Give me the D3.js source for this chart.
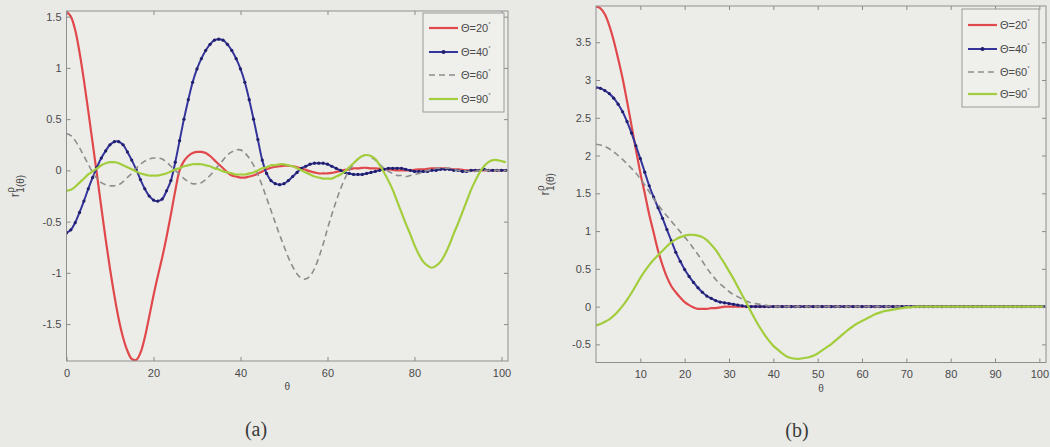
<!DOCTYPE html>
<html>
<head>
<meta charset="utf-8">
<script src="https://cdn.jsdelivr.net/npm/d3@7"></script>
<style>
  html, body { margin: 0; padding: 0; background: #e9e9e6; }
  svg { display: block; }
</style>
</head>
<body>
<svg id="chart" width="1050" height="447"></svg>
<script>
// Angle grid (degrees), shared by both panels
const theta = d3.range(0, 102);

// Panel (a)
const redA = [
  1.55, 1.50, 1.37, 1.15, 0.88, 0.58, 0.27, -0.04, -0.36, -0.67,
  -0.96, -1.22, -1.45, -1.63, -1.76, -1.84, -1.85, -1.78, -1.63, -1.43,
  -1.22, -1.03, -0.85, -0.65, -0.43, -0.20, 0.00, 0.09, 0.14, 0.17,
  0.18, 0.18, 0.17, 0.14, 0.10, 0.06, 0.02, -0.02, -0.05, -0.06,
  -0.07, -0.07, -0.06, -0.05, -0.03, -0.01, 0.01, 0.025, 0.035, 0.04,
  0.045, 0.045, 0.04, 0.03, 0.02, 0.005, -0.01, -0.02, -0.03, -0.03,
  -0.03, -0.025, -0.015, -0.005, 0.005, 0.01, 0.02, 0.02, 0.025, 0.025,
  0.02, 0.02, 0.015, 0.01, 0.01, 0.005, 0, 0, 0, 0,
  0.005, 0.01, 0.01, 0.015, 0.02, 0.02, 0.02, 0.02, 0.015, 0.01,
  0.01, 0.005, 0, 0, 0, 0, 0, 0, 0, 0,
  0, 0
];
const blueA = [
  -0.61, -0.58, -0.51, -0.41, -0.30, -0.18, -0.07, 0.03, 0.12, 0.19,
  0.25, 0.28, 0.28, 0.25, 0.18, 0.10, 0.01, -0.09, -0.18, -0.25,
  -0.29, -0.30, -0.28, -0.20, -0.10, 0.08, 0.29, 0.50, 0.69, 0.86,
  0.99, 1.09, 1.17, 1.23, 1.27, 1.28, 1.27, 1.23, 1.17, 1.09,
  0.99, 0.86, 0.69, 0.50, 0.30, 0.10, -0.03, -0.10, -0.13, -0.14,
  -0.13, -0.10, -0.06, -0.02, 0.02, 0.04, 0.06, 0.07, 0.07, 0.07,
  0.06, 0.04, 0.02, 0.00, -0.02, -0.03, -0.04, -0.04, -0.04, -0.03,
  -0.02, -0.01, 0, 0.01, 0.02, 0.02, 0.02, 0.02, 0.01, 0,
  -0.01, -0.01, -0.01, -0.01, 0, 0, 0.01, 0.01, 0.01, 0,
  0, -0.01, -0.01, 0, 0, 0, 0.01, 0, 0, 0,
  0, 0
];
const grayA = [
  0.36, 0.34, 0.29, 0.22, 0.14, 0.06, -0.02, -0.08, -0.12, -0.14,
  -0.15, -0.15, -0.14, -0.11, -0.07, -0.03, 0.02, 0.06, 0.09, 0.11,
  0.12, 0.12, 0.11, 0.08, 0.04, 0.00, -0.04, -0.08, -0.11, -0.13,
  -0.13, -0.12, -0.09, -0.05, 0.00, 0.05, 0.10, 0.15, 0.18, 0.20,
  0.20, 0.17, 0.12, 0.05, -0.04, -0.15, -0.27, -0.39, -0.51, -0.63,
  -0.74, -0.85, -0.94, -1.01, -1.05, -1.06, -1.03, -0.96, -0.85, -0.72,
  -0.57, -0.43, -0.30, -0.18, -0.08, 0.00, 0.06, 0.11, 0.14, 0.15,
  0.13, 0.10, 0.06, 0.02, -0.01, -0.03, -0.05, -0.05, -0.06, -0.05,
  -0.04, -0.03, -0.01, 0, 0.01, 0.02, 0.02, 0.02, 0.02, 0.01,
  0, 0, -0.01, -0.01, -0.01, 0, 0, 0, 0, 0,
  0, 0
];
const greenA = [
  -0.20, -0.19, -0.16, -0.12, -0.08, -0.04, -0.01, 0.02, 0.05, 0.07,
  0.08, 0.08, 0.07, 0.05, 0.03, 0.01, -0.01, -0.03, -0.04, -0.05,
  -0.05, -0.05, -0.04, -0.03, -0.01, 0.01, 0.02, 0.04, 0.05, 0.06,
  0.06, 0.06, 0.05, 0.04, 0.02, 0.01, -0.01, -0.02, -0.03, -0.04,
  -0.04, -0.04, -0.03, -0.02, 0.00, 0.02, 0.03, 0.05, 0.05, 0.06,
  0.06, 0.05, 0.04, 0.02, 0.00, -0.02, -0.04, -0.06, -0.07, -0.08,
  -0.08, -0.08, -0.06, -0.04, -0.01, 0.03, 0.07, 0.11, 0.14, 0.15,
  0.14, 0.11, 0.05, -0.02, -0.10, -0.19, -0.30, -0.41, -0.52, -0.62,
  -0.73, -0.82, -0.89, -0.93, -0.95, -0.93, -0.89, -0.82, -0.73, -0.62,
  -0.52, -0.41, -0.30, -0.19, -0.10, -0.02, 0.04, 0.08, 0.10, 0.10,
  0.09, 0.08
];

// Panel (b)
const redB = [
  3.97, 3.95, 3.87, 3.72, 3.52, 3.28, 3.02, 2.72, 2.40, 2.08,
  1.77, 1.50, 1.22, 0.98, 0.74, 0.55, 0.39, 0.27, 0.19, 0.12,
  0.06, 0.02, -0.01, -0.03, -0.03, -0.03, -0.02, -0.02, -0.01, 0,
  0, 0, 0, 0, 0, 0, 0, 0, 0, 0,
  0, 0, 0, 0, 0, 0, 0, 0, 0, 0,
  0, 0, 0, 0, 0, 0, 0, 0, 0, 0,
  0, 0, 0, 0, 0, 0, 0, 0, 0, 0,
  0, 0, 0, 0, 0, 0, 0, 0, 0, 0,
  0, 0, 0, 0, 0, 0, 0, 0, 0, 0,
  0, 0, 0, 0, 0, 0, 0, 0, 0, 0,
  0, 0
];
const blueB = [
  2.90, 2.89, 2.86, 2.82, 2.76, 2.68, 2.58, 2.45, 2.30, 2.13,
  1.96, 1.78, 1.60, 1.45, 1.31, 1.17, 1.02, 0.87, 0.72, 0.60,
  0.49, 0.40, 0.32, 0.25, 0.19, 0.14, 0.11, 0.08, 0.06, 0.05,
  0.04, 0.03, 0.02, 0.01, 0, 0, 0, 0, 0, 0,
  0, 0, 0, 0, 0, 0, 0, 0, 0, 0,
  0, 0, 0, 0, 0, 0, 0, 0, 0, 0,
  0, 0, 0, 0, 0, 0, 0, 0, 0, 0,
  0, 0, 0, 0, 0, 0, 0, 0, 0, 0,
  0, 0, 0, 0, 0, 0, 0, 0, 0, 0,
  0, 0, 0, 0, 0, 0, 0, 0, 0, 0,
  0, 0
];
const grayB = [
  2.15, 2.14, 2.12, 2.09, 2.05, 2.00, 1.95, 1.89, 1.83, 1.77,
  1.69, 1.61, 1.52, 1.43, 1.35, 1.27, 1.20, 1.13, 1.06, 0.99,
  0.92, 0.85, 0.77, 0.69, 0.60, 0.51, 0.43, 0.36, 0.30, 0.25,
  0.20, 0.16, 0.13, 0.10, 0.07, 0.05, 0.04, 0.03, 0.02, 0.01,
  0, 0, 0, 0, 0, 0, 0, 0, 0, 0,
  0, 0, 0, 0, 0, 0, 0, 0, 0, 0,
  0, 0, 0, 0, 0, 0, 0, 0, 0, 0,
  0, 0, 0, 0, 0, 0, 0, 0, 0, 0,
  0, 0, 0, 0, 0, 0, 0, 0, 0, 0,
  0, 0, 0, 0, 0, 0, 0, 0, 0, 0,
  0, 0
];
const greenB = [
  -0.25, -0.23, -0.20, -0.17, -0.12, -0.06, 0.01, 0.09, 0.18, 0.28,
  0.38, 0.47, 0.55, 0.62, 0.68, 0.74, 0.80, 0.85, 0.89, 0.92,
  0.94, 0.95, 0.95, 0.94, 0.92, 0.88, 0.82, 0.75, 0.66, 0.57,
  0.47, 0.37, 0.26, 0.15, 0.04, -0.07, -0.18, -0.28, -0.37, -0.45,
  -0.52, -0.57, -0.62, -0.66, -0.68, -0.69, -0.69, -0.68, -0.67, -0.65,
  -0.62, -0.58, -0.54, -0.50, -0.45, -0.40, -0.35, -0.30, -0.26, -0.22,
  -0.19, -0.16, -0.13, -0.10, -0.08, -0.06, -0.05, -0.04, -0.03, -0.02,
  -0.01, -0.01, 0, 0, 0, 0, 0, 0, 0, 0,
  0, 0, 0, 0, 0, 0, 0, 0, 0, 0,
  0, 0, 0, 0, 0, 0, 0, 0, 0, 0,
  0, 0
];

const seriesNames = ["20", "40", "60", "90"];
const xTicksA = [0, 20, 40, 60, 80, 100];
const yTicksA = [-1.5, -1, -0.5, 0, 0.5, 1, 1.5];
const xTicksB = [10, 20, 30, 40, 50, 60, 70, 80, 90, 100];
const yTicksB = [-0.5, 0, 0.5, 1, 1.5, 2, 2.5, 3, 3.5];

const styles = [
  { color: "#e1484b", dash: null, width: 2.2, markers: false },
  { color: "#34349a", dash: null, width: 2.0, markers: true },
  { color: "#8e8c8e", dash: "6,4", width: 1.6, markers: false },
  { color: "#a2cd3c", dash: null, width: 2.2, markers: false }
];

const svg = d3.select("#chart");
const FONT = '"Liberation Sans", Arial, Helvetica, sans-serif';

function drawPanel(p) {
  const x = d3.scaleLinear().domain(p.xDomain).range([p.left, p.right]);
  const y = d3.scaleLinear().domain(p.yDomain).range([p.bottom, p.top]);
  const g = svg.append("g");

  g.append("rect")
    .attr("x", p.left).attr("y", p.top)
    .attr("width", p.right - p.left).attr("height", p.bottom - p.top)
    .attr("fill", "#ecece9");

  const clipId = "clip-" + p.id;
  svg.append("clipPath").attr("id", clipId)
    .append("rect")
    .attr("x", p.left).attr("y", p.top)
    .attr("width", p.right - p.left).attr("height", p.bottom - p.top);

  const line = d3.line()
    .x((d, i) => x(theta[i]))
    .y(d => y(d))
    .curve(d3.curveCatmullRom.alpha(0.5));

  const plot = g.append("g").attr("clip-path", `url(#${clipId})`);
  p.series.forEach((vals, k) => {
    const s = styles[k];
    plot.append("path")
      .datum(vals)
      .attr("d", line)
      .attr("fill", "none")
      .attr("stroke", s.color)
      .attr("stroke-width", s.width)
      .attr("stroke-dasharray", s.dash)
      .attr("stroke-linejoin", "round");
    if (s.markers) {
      plot.append("g").selectAll("circle")
        .data(vals)
        .join("circle")
        .attr("cx", (d, i) => x(theta[i]))
        .attr("cy", d => y(d))
        .attr("r", 1.6)
        .attr("fill", "#1f1f6c");
    }
  });

  // axes: ticks pointing inward on all four sides, labels on bottom/left
  const axisStyle = sel => {
    sel.select(".domain").remove();
    sel.selectAll(".tick line").attr("stroke", "#8a8a8a");
    sel.selectAll(".tick text")
      .attr("fill", "#4a4a4a")
      .style("font-family", FONT)
      .style("font-size", "11px");
  };
  g.append("g").attr("transform", `translate(0,${p.bottom})`)
    .call(d3.axisBottom(x).tickValues(p.xTicks).tickSizeInner(-4).tickSizeOuter(0).tickPadding(8).tickFormat(d3.format("d")))
    .call(axisStyle);
  g.append("g").attr("transform", `translate(0,${p.top})`)
    .call(d3.axisTop(x).tickValues(p.xTicks).tickSizeInner(-4).tickSizeOuter(0).tickFormat(""))
    .call(axisStyle);
  g.append("g").attr("transform", `translate(${p.left},0)`)
    .call(d3.axisLeft(y).tickValues(p.yTicks).tickSizeInner(-4).tickSizeOuter(0).tickPadding(5)
      .tickFormat(d => String(d)))
    .call(axisStyle);
  g.append("g").attr("transform", `translate(${p.right},0)`)
    .call(d3.axisRight(y).tickValues(p.yTicks).tickSizeInner(-4).tickSizeOuter(0).tickFormat(""))
    .call(axisStyle);

  g.append("rect")
    .attr("x", p.left).attr("y", p.top)
    .attr("width", p.right - p.left).attr("height", p.bottom - p.top)
    .attr("fill", "none").attr("stroke", "#8f8f8f").attr("stroke-width", 1);

  // axis titles
  g.append("text")
    .attr("x", (p.left + p.right) / 2).attr("y", p.bottom + 29)
    .attr("text-anchor", "middle")
    .style("font-family", FONT).style("font-size", "10px").attr("fill", "#4a4a4a")
    .text("\u03b8");

  const yl = g.append("text")
    .attr("transform", `translate(${p.ylabelX},${(p.top + p.bottom) / 2}) rotate(-90)`)
    .attr("text-anchor", "middle")
    .style("font-family", FONT).style("font-size", "13px").attr("fill", "#4a4a4a");
  yl.append("tspan").text("r");
  yl.append("tspan").attr("dy", -5).style("font-size", "10px").text("\u03c1");
  yl.append("tspan").attr("dx", -5.5).attr("dy", 10).style("font-size", "10px").text("1(\u03b8)");

  // legend
  const lg = g.append("g");
  lg.append("rect")
    .attr("x", p.legend.x).attr("y", p.legend.y)
    .attr("width", p.legend.w).attr("height", p.legend.h)
    .attr("fill", "#efefec").attr("stroke", "#9a9a9a").attr("stroke-width", 1);
  seriesNames.forEach((name, k) => {
    const s = styles[k];
    const ry = p.legend.y + p.legend.rows[k];
    const x0 = p.legend.x + 6, x1 = x0 + 29;
    lg.append("line")
      .attr("x1", x0).attr("x2", x1).attr("y1", ry).attr("y2", ry)
      .attr("stroke", s.color).attr("stroke-width", s.width)
      .attr("stroke-dasharray", s.dash);
    if (s.markers) {
      lg.append("circle").attr("cx", (x0 + x1) / 2).attr("cy", ry).attr("r", 2).attr("fill", "#1f1f6c");
    }
    const t = lg.append("text")
      .attr("x", x1 + 3).attr("y", ry + 4)
      .style("font-family", FONT).style("font-size", "11px").attr("fill", "#4a4a4a");
    t.append("tspan").text("\u0398=" + name);
    t.append("tspan").attr("dy", -6).style("font-size", "6px").text("\u00b0");
  });

  // panel caption
  g.append("text")
    .attr("x", p.caption.x).attr("y", p.caption.y)
    .attr("text-anchor", "middle")
    .style("font-family", '"Liberation Serif", "DejaVu Serif", serif')
    .style("font-size", "20px").attr("fill", "#3a3a3a")
    .text(p.caption.text);
}

drawPanel({
  id: "a",
  left: 66.5, right: 508, top: 11, bottom: 361,
  xDomain: [0, 101.5], yDomain: [-1.86, 1.555],
  xTicks: xTicksA, yTicks: yTicksA,
  series: [redA, blueA, grayA, greenA],
  ylabelX: 19,
  legend: { x: 423, y: 13, w: 81, h: 99, rows: [15, 39, 62, 86] },
  caption: { x: 256, y: 436, text: "(a)" }
});

drawPanel({
  id: "b",
  left: 596, right: 1046, top: 6, bottom: 362.5,
  xDomain: [0, 101.5], yDomain: [-0.74, 3.98],
  xTicks: xTicksB, yTicks: yTicksB,
  series: [redB, blueB, grayB, greenB],
  ylabelX: 549,
  legend: { x: 962, y: 9, w: 77, h: 98, rows: [16, 40, 63, 85] },
  caption: { x: 797, y: 437, text: "(b)" }
});
</script>
</body>
</html>
